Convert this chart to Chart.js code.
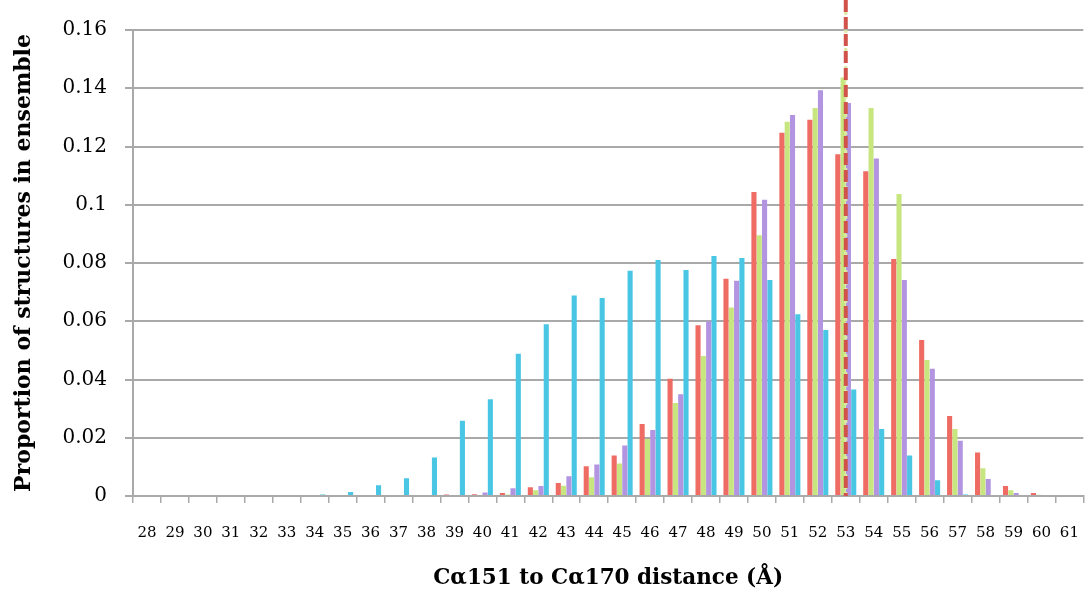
<!DOCTYPE html>
<html>
<head>
<meta charset="utf-8">
<script src="https://cdn.jsdelivr.net/npm/chart.js@4/dist/chart.umd.min.js"></script>
<style>
  html, body { margin: 0; padding: 0; background: #fff; overflow: hidden; }
  #wrap { width: 1100px; height: 595px; }
</style>
</head>
<body>
<div id="wrap"><canvas id="distance-chart" width="1100" height="595"></canvas></div>
<script>
const distances = ['28', '29', '30', '31', '32', '33', '34', '35', '36', '37', '38', '39', '40', '41', '42', '43', '44',
    '45', '46', '47', '48', '49', '50', '51', '52', '53', '54', '55', '56', '57', '58', '59', '60', '61'];

const redSeries = [0, 0, 0, 0, 0, 0, 0, 0, 0, 0, 0, 0.0005, 0.0006, 0.001, 0.003, 0.0045, 0.0102,
    0.0139, 0.0247, 0.0403, 0.0586, 0.0746, 0.1044, 0.1247, 0.1292, 0.1173, 0.1115, 0.0814, 0.0536, 0.0275, 0.0149, 0.0034, 0.001, 0];
const greenSeries = [0, 0, 0, 0, 0, 0, 0, 0, 0, 0, 0, 0, 0, 0.0005, 0.002, 0.0035, 0.0064,
    0.0112, 0.0196, 0.0319, 0.0481, 0.0647, 0.0895, 0.1285, 0.1332, 0.1437, 0.1332, 0.1037, 0.0467, 0.023, 0.0095, 0.002, 0.0004, 0];
const purpleSeries = [0, 0, 0, 0, 0, 0, 0, 0, 0, 0, 0, 0, 0.0012, 0.0027, 0.0034, 0.0068, 0.0108,
    0.0173, 0.0227, 0.0349, 0.06, 0.0739, 0.1017, 0.1308, 0.1393, 0.1349, 0.1159, 0.0742, 0.0437, 0.019, 0.0058, 0.001, 0, 0];
const cyanSeries = [0, 0, 0, 0, 0, 0, 0.0005, 0.0014, 0.0037, 0.0061, 0.0132, 0.0258, 0.0332, 0.0488, 0.059, 0.0688, 0.068,
    0.0773, 0.081, 0.0776, 0.0824, 0.0817, 0.0742, 0.0624, 0.057, 0.0366, 0.023, 0.0139, 0.0054, 0.0005, 0, 0, 0, 0];

const yTicks = [0, 0.02, 0.04, 0.06, 0.08, 0.1, 0.12, 0.14, 0.16];
const markerDistance = '53';

const gridGrey = '#a9a9a9';

// dashed reference line drawn over the bars at the marked distance
const markerLine = {
    id: 'markerLine',
    afterDatasetsDraw(chart) {
        const { ctx, chartArea, scales } = chart;
        const x = scales.x.getPixelForValue(distances.indexOf(markerDistance));
        ctx.save();
        ctx.beginPath();
        ctx.moveTo(x, 0);
        ctx.lineTo(x, chartArea.bottom);
        ctx.lineWidth = 3;
        ctx.strokeStyle = '#dbe9a0';
        ctx.setLineDash([3, 3]);
        ctx.stroke();
        ctx.beginPath();
        ctx.moveTo(x, 0);
        ctx.lineTo(x, chartArea.bottom);
        ctx.lineWidth = 4;
        ctx.strokeStyle = '#d0524a';
        ctx.setLineDash([12, 5]);
        ctx.stroke();
        ctx.restore();
    }
};

function series(label, data, color) {
    return {
        label: label,
        data: data,
        backgroundColor: color,
        borderWidth: 0,
        barPercentage: 0.96,
        categoryPercentage: 0.76
    };
}

new Chart(document.getElementById('distance-chart'), {
    type: 'bar',
    data: {
        labels: distances,
        datasets: [
            series('Set 1', redSeries, 'rgb(238, 108, 100)'),
            series('Set 2', greenSeries, 'rgb(200, 230, 128)'),
            series('Set 3', purpleSeries, 'rgb(178, 148, 224)'),
            series('Set 4', cyanSeries, 'rgb(72, 198, 228)')
        ]
    },
    options: {
        responsive: false,
        devicePixelRatio: 1,
        animation: false,
        layout: { padding: { top: 24, right: 5, left: 0, bottom: 0 } },
        plugins: {
            legend: { display: false },
            tooltip: { enabled: false }
        },
        scales: {
            x: {
                afterFit(scale) { scale.height = 99; },
                grid: {
                    drawOnChartArea: false,
                    drawTicks: true,
                    tickLength: 7,
                    color: gridGrey,
                    lineWidth: 1.5
                },
                border: { color: gridGrey, width: 2 },
                ticks: {
                    autoSkip: false,
                    maxRotation: 0,
                    padding: 21,
                    color: '#000',
                    font: { family: 'DejaVu Serif', size: 15 }
                },
                title: {
                    display: true,
                    text: 'Cα151 to Cα170 distance (Å)',
                    color: '#000',
                    padding: { top: 1 },
                    font: { family: 'DejaVu Serif', size: 21.5, weight: 'bold' }
                }
            },
            y: {
                min: 0,
                max: 0.16,
                afterFit(scale) { scale.width = 133; },
                afterBuildTicks(scale) { scale.ticks = yTicks.map(v => ({ value: v })); },
                grid: {
                    color: gridGrey,
                    lineWidth: 2,
                    tickLength: 8
                },
                border: { color: gridGrey, width: 2 },
                ticks: {
                    padding: 18,
                    color: '#000',
                    font: { family: 'DejaVu Serif', size: 20 },
                    callback: v => String(+v.toFixed(2))
                },
                title: {
                    display: true,
                    text: 'Proportion of structures in ensemble',
                    color: '#000',
                    padding: { top: 11 },
                    font: { family: 'DejaVu Serif', size: 22, weight: 'bold' }
                }
            }
        }
    },
    plugins: [markerLine]
});
</script>
</body>
</html>
